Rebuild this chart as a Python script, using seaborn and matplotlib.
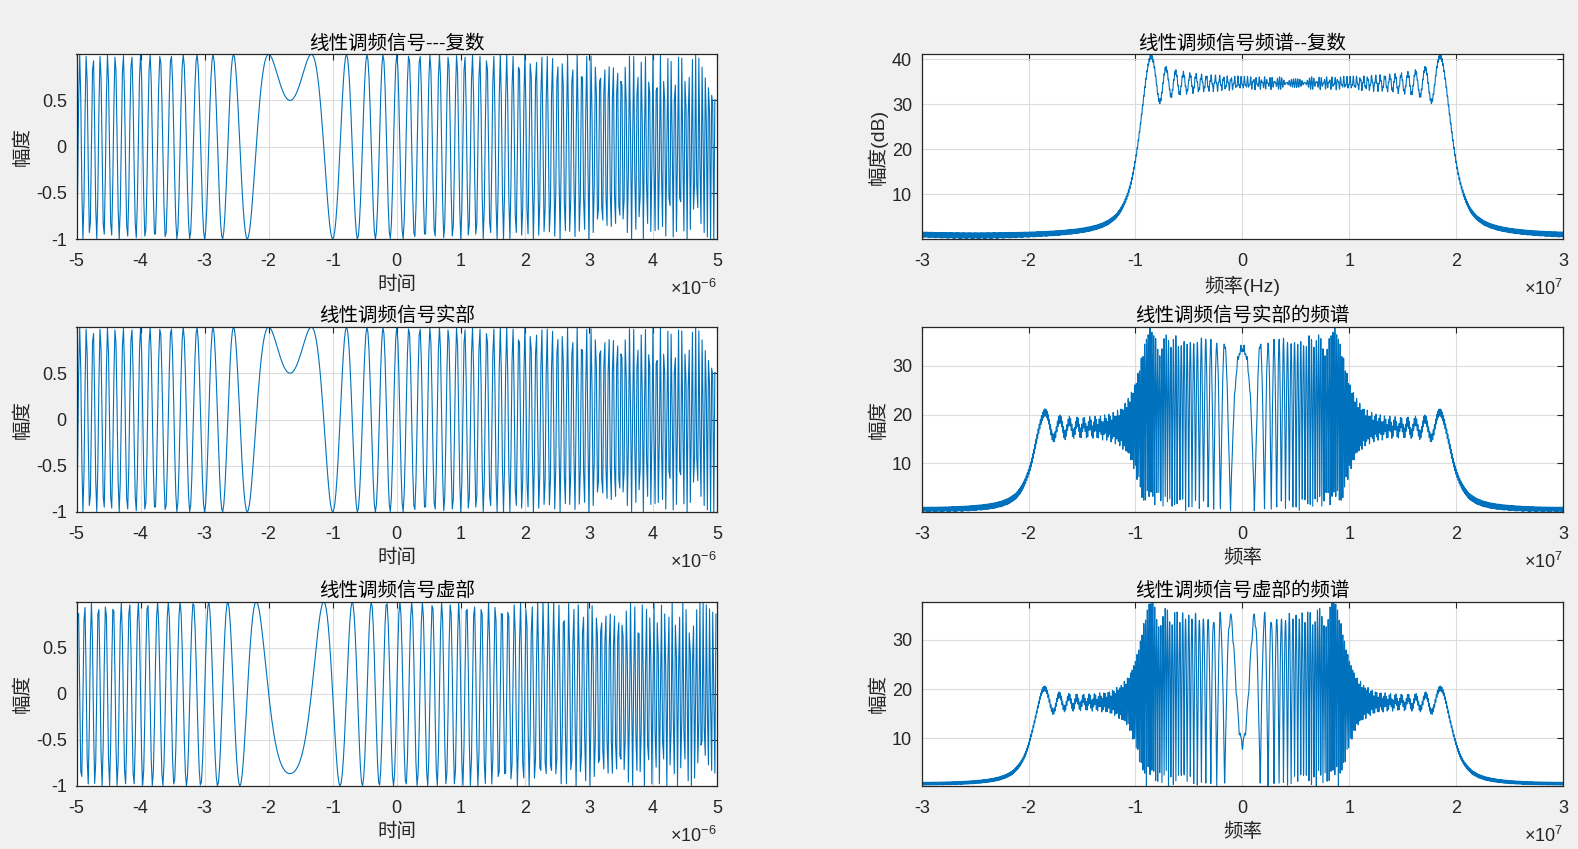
import numpy as np
import pandas as pd
import matplotlib
matplotlib.use("Agg")
import matplotlib.pyplot as plt
import seaborn as sns

# ---- chirp (linear FM) parameters ----
T_PULSE = 10e-6        # pulse width (s): time axis spans -5..5 x1e-6
BANDWIDTH = 30e6       # sweep: spectrum occupies -1e7 .. 2e7 Hz
F_CENTER = 5e6         # centre of the sweep (Hz)
FS = 60e6              # sample rate: frequency axis spans -3e7 .. 3e7
NFFT = 4096            # zero-padded FFT length

time_ticks = [-5, -4, -3, -2, -1, 0, 1, 2, 3, 4, 5]          # x 1e-6
freq_ticks = [-3, -2, -1, 0, 1, 2, 3]                         # x 1e7
amp_ticks = [-1, -0.5, 0, 0.5]
spec_db_ticks = [10, 20, 30, 40]
spec_ticks = [10, 20, 30]

left_titles = ["线性调频信号---复数", "线性调频信号实部", "线性调频信号虚部"]
right_titles = ["线性调频信号频谱--复数", "线性调频信号实部的频谱", "线性调频信号虚部的频谱"]
right_xlabels = ["频率(Hz)", "频率", "频率"]
right_ylabels = ["幅度(dB)", "幅度", "幅度"]

# ---- signal ----
K = BANDWIDTH / T_PULSE
t = np.arange(-T_PULSE / 2, T_PULSE / 2, 1 / FS)
s = np.exp(1j * 2 * np.pi * (F_CENTER * t + 0.5 * K * t ** 2))
f = np.linspace(-FS / 2, FS / 2, NFFT)

time_series = [np.real(s), np.real(s), np.imag(s)]
spec_series = [np.abs(np.fft.fftshift(np.fft.fft(s, NFFT))),
               np.abs(np.fft.fftshift(np.fft.fft(np.real(s), NFFT))),
               np.abs(np.fft.fftshift(np.fft.fft(np.imag(s), NFFT)))]

# ---- style ----
sns.set_style("white")
plt.rcParams["font.family"] = ["Liberation Sans", "Noto Sans CJK SC", "DejaVu Sans"]
plt.rcParams["axes.unicode_minus"] = False
plt.rcParams["mathtext.fontset"] = "custom"
plt.rcParams["mathtext.rm"] = "Liberation Sans"
plt.rcParams["mathtext.it"] = "Liberation Sans"
plt.rcParams["mathtext.default"] = "regular"

LINE = "#0072BD"
AXC = "#262626"
GRID = "#dcdcdc"
W, H = 1578, 849

fig = plt.figure(figsize=(W / 100, H / 100), dpi=100)
fig.patch.set_facecolor("#f0f0f0")

cols = [(76.5, 717.0), (921.7, 1563.0)]
rows = [(54.3, 239.0), (327.0, 512.0), (601.7, 786.0)]


def make_ax(col, row):
    x0, x1 = cols[col]
    y0, y1 = rows[row]
    ax = fig.add_axes([x0 / W, 1 - y1 / H, (x1 - x0) / W, (y1 - y0) / H])
    ax.set_facecolor("white")
    for sp in ax.spines.values():
        sp.set_color(AXC)
        sp.set_linewidth(0.9)
    ax.tick_params(direction="in", top=True, right=True, length=4, width=0.8,
                   colors=AXC, labelsize=13)
    ax.tick_params(axis="x", pad=10)
    ax.tick_params(axis="y", pad=7)
    ax.grid(True, color=GRID, linewidth=0.8)
    ax.set_axisbelow(True)
    return ax


def fmt(scale):
    return matplotlib.ticker.FuncFormatter(lambda v, p: f"{v * scale:g}")


for r in range(3):
    h = rows[r][1] - rows[r][0]
    # time domain
    ax = make_ax(0, r)
    df = pd.DataFrame({"t": t, "y": time_series[r]})
    sns.lineplot(data=df, x="t", y="y", ax=ax, color=LINE, linewidth=0.8,
                 estimator=None, sort=False)
    ax.set_xlim(-T_PULSE / 2, T_PULSE / 2)
    ax.set_ylim(time_series[r].min(), time_series[r].max())
    ax.set_xticks(np.array(time_ticks) * 1e-6)
    ax.xaxis.set_major_formatter(fmt(1e6))
    ax.set_yticks(amp_ticks)
    ax.yaxis.set_major_formatter(fmt(1))
    ax.set_title(left_titles[r], fontsize=14, color="black", pad=4)
    ax.set_xlabel("时间", fontsize=14, color=AXC, labelpad=4)
    ax.set_ylabel("幅度", fontsize=14, color=AXC, labelpad=3)
    ax.text(1.0, -50 / h, r"$\times10^{-6}$", transform=ax.transAxes,
            ha="right", va="center", fontsize=13, color=AXC)

    # spectrum
    ax = make_ax(1, r)
    df = pd.DataFrame({"f": f, "y": spec_series[r]})
    sns.lineplot(data=df, x="f", y="y", ax=ax, color=LINE, linewidth=0.8,
                 estimator=None, sort=False)
    ax.set_xlim(-FS / 2, FS / 2)
    ax.set_ylim(spec_series[r].min(), spec_series[r].max())
    ax.set_xticks(np.array(freq_ticks) * 1e7)
    ax.xaxis.set_major_formatter(fmt(1e-7))
    ax.set_yticks(spec_db_ticks if r == 0 else spec_ticks)
    ax.yaxis.set_major_formatter(fmt(1))
    ax.set_title(right_titles[r], fontsize=14, color="black", pad=4)
    ax.set_xlabel(right_xlabels[r], fontsize=14, color=AXC, labelpad=4)
    ax.set_ylabel(right_ylabels[r], fontsize=14, color=AXC, labelpad=3)
    ax.text(1.0, -50 / h, r"$\times10^{7}$", transform=ax.transAxes,
            ha="right", va="center", fontsize=13, color=AXC)

fig.savefig("out.png", dpi=100, facecolor=fig.get_facecolor())
